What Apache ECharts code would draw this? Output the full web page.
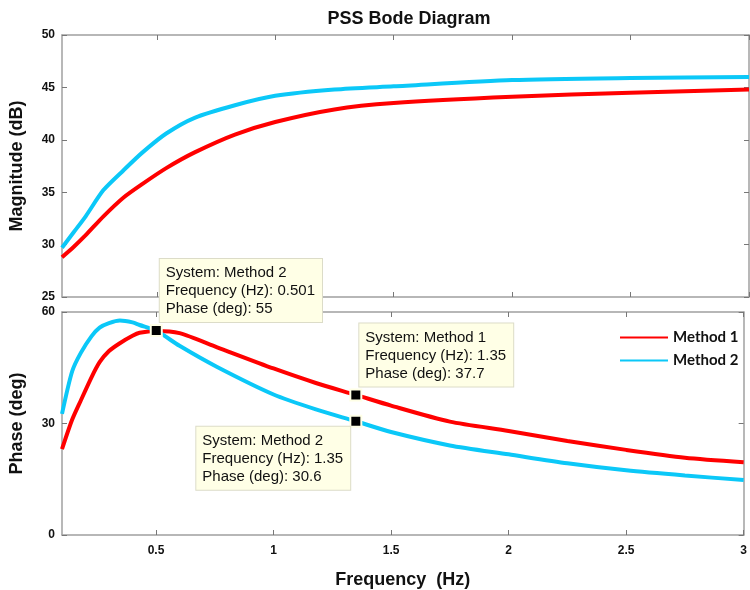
<!DOCTYPE html>
<html>
<head>
<meta charset="utf-8">
<script src="https://cdn.jsdelivr.net/npm/echarts@6/dist/echarts.min.js"></script>
<style>
  html, body { margin: 0; padding: 0; background: #fff; }
  #main { width: 750px; height: 590px; }
</style>
</head>
<body>
<div id="main"></div>
<script>
// magnitude (dB)
var magFreq = [0.1, 0.15, 0.2, 0.275, 0.36, 0.44, 0.54, 0.66, 0.83, 1.0, 1.25, 1.5, 2.0, 2.5, 3.0];
var magMethod1 = [28.8, 29.8, 30.9, 32.7, 34.5, 35.8, 37.3, 38.8, 40.5, 41.7, 42.9, 43.5, 44.1, 44.5, 44.8];
var magMethod2 = [29.7, 31.2, 32.7, 35.2, 37.1, 38.8, 40.6, 42.1, 43.3, 44.2, 44.8, 45.1, 45.7, 45.9, 46.0];

// phase (deg)
var phaseFreq = [0.1, 0.143, 0.18, 0.226, 0.26, 0.3, 0.346, 0.4, 0.43, 0.5, 0.6, 0.76, 1.0, 1.18, 1.35, 1.5, 1.75, 2.0, 2.25, 2.5, 2.75, 3.0];
var phaseMethod1 = [23.1, 31.0, 36.2, 42.5, 46.5, 49.5, 51.6, 53.6, 54.4, 54.9, 54.3, 50.5, 44.8, 40.9, 37.7, 34.8, 30.5, 28.0, 25.3, 22.9, 20.8, 19.6];
var phaseMethod2 = [32.6, 44.0, 49.0, 53.5, 55.8, 57.0, 57.7, 57.2, 56.5, 55.0, 50.9, 45.2, 37.8, 33.8, 30.6, 27.7, 24.1, 21.7, 19.3, 17.4, 16.0, 14.8];

// data tips
var tipSystem = ['Method 2', 'Method 1', 'Method 2'];
var tipFreq = [0.501, 1.35, 1.35];
var tipPhase = [55, 37.7, 30.6];

var xTicks = [0.5, 1, 1.5, 2, 2.5, 3];
var colors = ['#ff0000', '#0bc8f8'];
var axisGray = '#a0a0a0';
var font = 'Liberation Sans';

function pairs(xs, ys) {
  return xs.map(function (x, i) { return [x, ys[i]]; });
}

function tip(i, pos, vAlign) {
  return {
    coord: [tipFreq[i], tipPhase[i]],
    label: {
      show: true,
      position: pos,
      align: 'left',
      verticalAlign: vAlign,
      formatter: 'System: ' + tipSystem[i] + '\nFrequency (Hz): ' + tipFreq[i] + '\nPhase (deg): ' + tipPhase[i],
      backgroundColor: '#ffffe6',
      borderColor: '#dcdcc8',
      borderWidth: 1,
      padding: [5, 7, 4, 6],
      color: '#111',
      fontFamily: font,
      fontSize: 15,
      lineHeight: 18
    }
  };
}

function xAx(grid, pos, labels, name) {
  return {
    type: 'value', gridIndex: grid, position: pos, min: 0.1, max: 3,
    name: name || '', nameLocation: 'middle', nameGap: 36,
    nameTextStyle: { fontFamily: font, fontWeight: 'bold', fontSize: 18, color: '#111' },
    axisLine: { show: true, onZero: false, lineStyle: { color: axisGray, width: 1.5 } },
    axisTick: { show: true, inside: true, length: 5, customValues: xTicks, lineStyle: { color: '#777' } },
    axisLabel: { show: labels, customValues: xTicks, margin: 10, fontFamily: font, fontWeight: 'bold', fontSize: 12, color: '#111' },
    splitLine: { show: false }
  };
}

function yAx(grid, pos, min, max, step, labels, name) {
  return {
    type: 'value', gridIndex: grid, position: pos, min: min, max: max, interval: step,
    name: name || '', nameLocation: 'middle', nameGap: 36,
    nameTextStyle: { fontFamily: font, fontWeight: 'bold', fontSize: 18, color: '#111' },
    axisLine: { show: true, onZero: false, lineStyle: { color: axisGray, width: 1.5 } },
    axisTick: { show: true, inside: true, length: 5, lineStyle: { color: '#777' } },
    axisLabel: { show: labels, margin: 7, fontFamily: font, fontWeight: 'bold', fontSize: 12, color: '#111' },
    splitLine: { show: false }
  };
}

function lineSeries(name, xi, data, color, extra) {
  var s = {
    name: name, type: 'line', xAxisIndex: xi, yAxisIndex: xi,
    data: data, smooth: 0.25, showSymbol: false,
    lineStyle: { color: color, width: 4 }, itemStyle: { color: color }
  };
  if (extra) s.markPoint = extra;
  return s;
}

function tipMarks(list) {
  return {
    symbol: 'rect', symbolSize: 11, silent: true,
    itemStyle: { color: '#000', borderColor: '#ffffe6', borderWidth: 2 },
    data: list
  };
}

var chart = echarts.init(document.getElementById('main'));

var option = {
  animation: false,
  title: {
    text: 'PSS Bode Diagram',
    left: 404, top: 5, textAlign: 'center',
    textStyle: { fontFamily: font, fontWeight: 'bold', fontSize: 18, color: '#111' }
  },
  legend: {
    data: ['Method 1', 'Method 2'],
    orient: 'vertical',
    left: 615, top: 325,
    icon: 'rect', itemWidth: 48, itemHeight: 2, itemGap: 8,
    textStyle: { fontFamily: 'Lato', fontWeight: 'bold', fontSize: 15, color: '#111' }
  },
  grid: [
    { left: 58, right: 1, top: 35, height: 262 },
    { left: 58, right: 1, top: 312, height: 230 }
  ],
  xAxis: [
    xAx(0, 'bottom', false),
    xAx(0, 'top', false),
    xAx(1, 'bottom', true, 'Frequency  (Hz)'),
    xAx(1, 'top', false)
  ],
  yAxis: [
    yAx(0, 'left', 25, 50, 5, true, 'Magnitude (dB)'),
    yAx(0, 'right', 25, 50, 5, false),
    yAx(1, 'left', 0, 60, 30, true, 'Phase (deg)'),
    yAx(1, 'right', 0, 60, 30, false)
  ],
  series: [
    lineSeries('Method 1', 0, pairs(magFreq, magMethod1), colors[0]),
    lineSeries('Method 2', 0, pairs(magFreq, magMethod2), colors[1]),
    lineSeries('Method 1', 2, pairs(phaseFreq, phaseMethod1), colors[0],
      tipMarks([tip(1, [10, -2], 'bottom')])),
    lineSeries('Method 2', 2, pairs(phaseFreq, phaseMethod2), colors[1],
      tipMarks([tip(0, [10, -2], 'bottom'), tip(2, [-153, 12], 'top')]))
  ]
};

chart.setOption(option);
</script>
</body>
</html>
